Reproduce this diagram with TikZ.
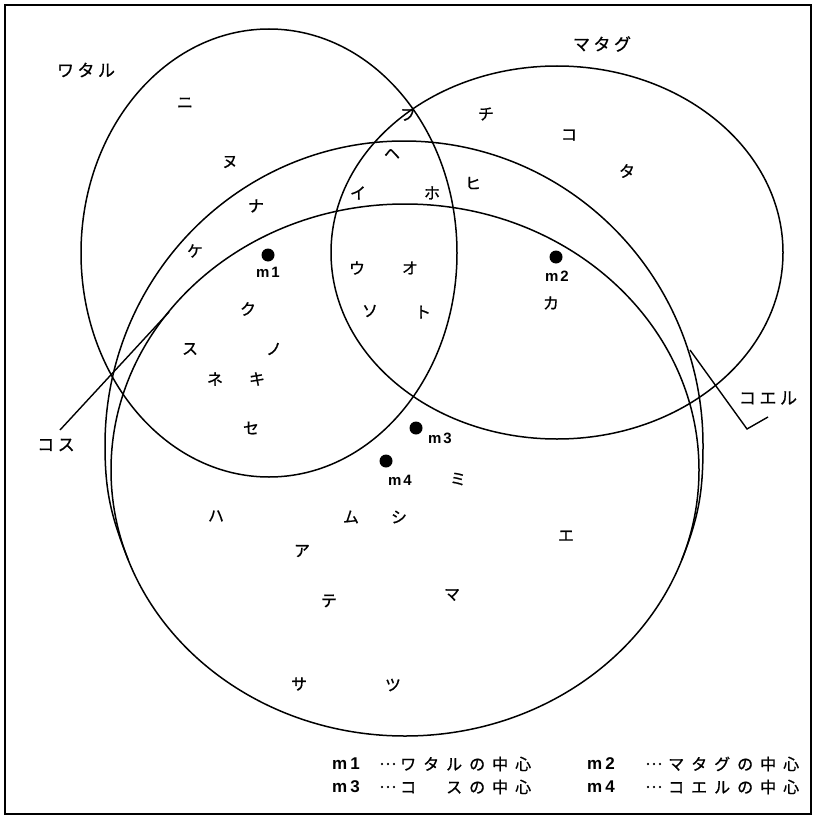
\documentclass[tikz,border=0pt]{standalone}
\usepackage{fontspec}
\setmainfont{Liberation Sans}
\newfontfamily\jp{Noto Sans CJK JP}[FakeBold=0.8]
\newfontfamily\lat{Liberation Sans}
\newcommand\jgap{\kern3.5pt}
\newcommand\lgap{\kern7pt}
\begin{document}
\begin{tikzpicture}[x=1pt,y=-1pt,
  ring/.style={line width=1.5pt},
  frame/.style={line width=1.7pt},
  leader/.style={line width=1.4pt},
  kana/.style={font=\jp\fontsize{16}{16}\selectfont, inner sep=0pt},
  title/.style={font=\jp\fontsize{17}{17}\selectfont, inner sep=0pt},
  mlab/.style={font=\lat\bfseries\fontsize{15}{15}\selectfont, inner sep=0pt},
  cdot/.style={circle, fill=black, minimum size=13pt, inner sep=0pt},
  legm/.style={font=\lat\bfseries\fontsize{17}{17}\selectfont, inner sep=0pt, anchor=west},
  legj/.style={font=\jp\fontsize{16}{16}\selectfont, inner sep=0pt, anchor=west}]
\useasboundingbox (0,0) rectangle (813,816);
\draw[frame] (5,5) rectangle (811,814);

% ellipses
\draw[ring] (269,253) ellipse [x radius=188pt, y radius=224pt];
\draw[ring] (557,252.5) ellipse [x radius=226pt, y radius=186.5pt];
% inner large ring (m4)
\draw[ring] (405,470) ellipse [x radius=294pt, y radius=266pt];
% outer large ring: upper arc, merging smoothly into the inner ring below
\draw[ring] (128.3,560) .. controls (110.4,515) and (105,490) .. (105,445)
  arc[start angle=180, end angle=0, x radius=299pt, y radius=304pt]
  .. controls (703,490) and (699.6,515) .. (681.7,560);

% group titles
\node[title] (wataru) at (86,70) {ワ\jgap タ\jgap ル};
\node[title] (matagu) at (602,44) {マ\jgap タ\jgap グ};
\node[title] (kosu) at (56,445) {コ\jgap ス};
\node[title] (koeru) at (768,398) {コ\jgap エ\jgap ル};

% leader lines
\coordinate (kosA) at (60,430);
\coordinate (kosB) at (169,312);
\coordinate (koeA) at (690,350);
\coordinate (koeB) at (747,429);
\coordinate (koeC) at (768,417);
\draw[leader] (kosA) -- (kosB);
\draw[leader] (koeA) -- (koeB) -- (koeC);

% centres
\node[cdot] (d1) at (268,255) {};
\node[cdot] (d2) at (556,257) {};
\node[cdot] (d3) at (416,428) {};
\node[cdot] (d4) at (386,461) {};
\node[mlab] (m1) at (268,272) {m\kern2pt 1};
\node[mlab] (m2) at (557,276) {m\kern2pt 2};
\node[mlab] (m3) at (440,438) {m\kern2pt 3};
\node[mlab] (m4) at (400,480) {m\kern2pt 4};

% members
\node[kana] (ni) at (185,103) {ニ};
\node[kana] (nu) at (230,162) {ヌ};
\node[kana] (na) at (256,206) {ナ};
\node[kana] (ke) at (195,251) {ケ};
\node[kana] (ku) at (248,309) {ク};
\node[kana] (su) at (190,349) {ス};
\node[kana] (no) at (274,349) {ノ};
\node[kana] (ne) at (215,379) {ネ};
\node[kana] (ki) at (257,379) {キ};
\node[kana] (se) at (251,428) {セ};
\node[kana] (fu) at (408,115) {フ};
\node[kana] (he) at (392,154) {ヘ};
\node[kana] (i) at (358,193) {イ};
\node[kana] (ho) at (432,193) {ホ};
\node[kana] (hi) at (473,183) {ヒ};
\node[kana] (chi) at (486,114) {チ};
\node[kana] (ko) at (569,135) {コ};
\node[kana] (ta) at (627,171) {タ};
\node[kana] (u) at (357,268) {ウ};
\node[kana] (o) at (410,268) {オ};
\node[kana] (so) at (370,311) {ソ};
\node[kana] (to) at (423,312) {ト};
\node[kana] (ka) at (551,303) {カ};
\node[kana] (mi) at (458,479) {ミ};
\node[kana] (ha) at (216,516) {ハ};
\node[kana] (mu) at (351,517) {ム};
\node[kana] (shi) at (399,517) {シ};
\node[kana] (e) at (566,536) {エ};
\node[kana] (a) at (302,551) {ア};
\node[kana] (te) at (329,601) {テ};
\node[kana] (ma) at (452,595) {マ};
\node[kana] (sa) at (299,684) {サ};
\node[kana] (tsu) at (393,685) {ツ};

% legend
\node[legm] (l1m) at (332,764) {m\kern3pt 1};
\node[legj] (l1d) at (379,764) {…};
\node[legj] (l1t) at (400,764) {ワ\lgap タ\lgap ル\lgap の\lgap 中\lgap 心};
\node[legm] (l2m) at (587,764) {m\kern3pt 2};
\node[legj] (l2d) at (645,764) {…};
\node[legj] (l2t) at (668,764) {マ\lgap タ\lgap グ\lgap の\lgap 中\lgap 心};
\node[legm] (l3m) at (332,787) {m\kern3pt 3};
\node[legj] (l3d) at (379,787) {…};
\node[legj] (l3t) at (400,787) {コ\lgap 　\lgap ス\lgap の\lgap 中\lgap 心};
\node[legm] (l4m) at (587,787) {m\kern3pt 4};
\node[legj] (l4d) at (645,787) {…};
\node[legj] (l4t) at (668,787) {コ\lgap エ\lgap ル\lgap の\lgap 中\lgap 心};
\end{tikzpicture}
\end{document}
